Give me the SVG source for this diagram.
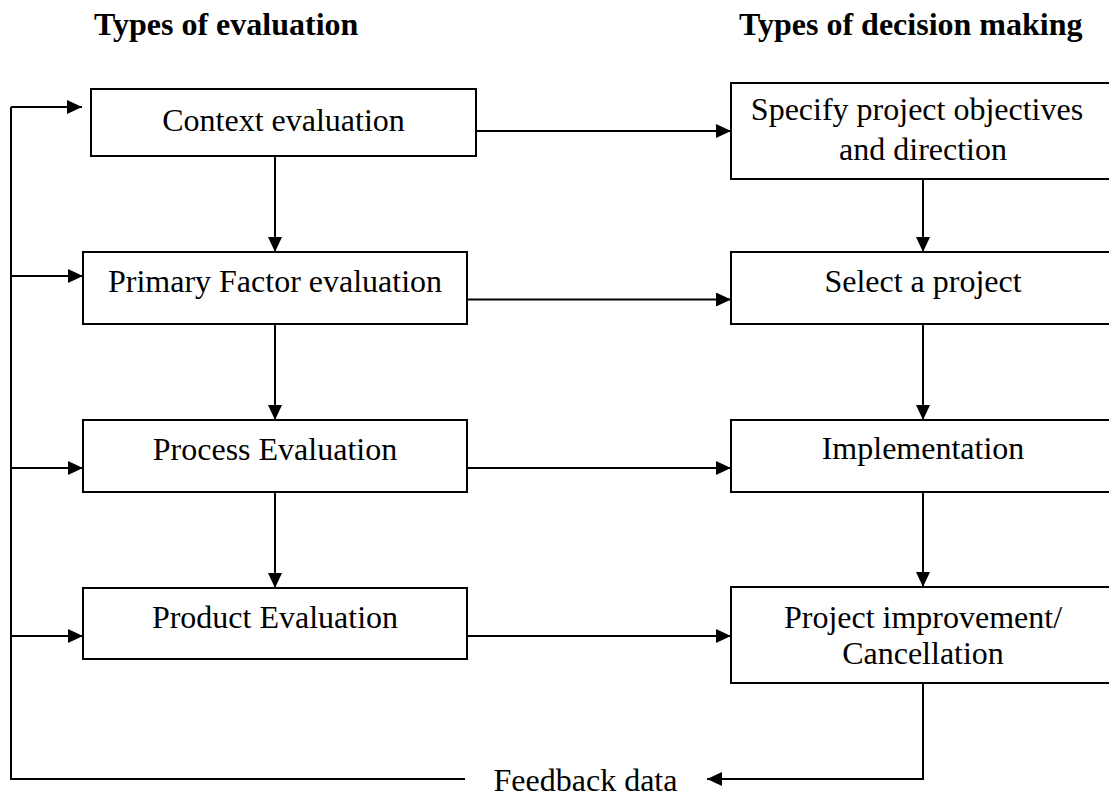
<svg xmlns="http://www.w3.org/2000/svg" width="1109" height="798" viewBox="0 0 1109 798">
<style>
.box{fill:#fff;stroke:#000;stroke-width:2}
.t{font-family:"Liberation Serif","Times New Roman",serif;font-size:32px;fill:#000;text-anchor:middle}
.h{font-family:"Liberation Serif","Times New Roman",serif;font-size:32px;font-weight:bold;fill:#000}
.c{fill:none;stroke:#000;stroke-width:2}
</style>
<defs>
<marker id="ah" markerUnits="userSpaceOnUse" markerWidth="15" markerHeight="14" refX="15" refY="7" orient="auto">
<path d="M0,0 L15,7 L0,14 z" fill="#000"/>
</marker>
</defs>
<rect width="1109" height="798" fill="#fff"/>
<text class="h" x="94" y="35">Types of evaluation</text>
<text class="h" x="739" y="35">Types of decision making</text>
<g id="connectors">
<path class="c" d="M476,131 H731" marker-end="url(#ah)"/>
<path class="c" d="M467,299.5 H731" marker-end="url(#ah)"/>
<path class="c" d="M467,468 H731" marker-end="url(#ah)"/>
<path class="c" d="M467,636 H731" marker-end="url(#ah)"/>
<path class="c" d="M275,156 V252" marker-end="url(#ah)"/>
<path class="c" d="M275,324 V420" marker-end="url(#ah)"/>
<path class="c" d="M275,492 V588" marker-end="url(#ah)"/>
<path class="c" d="M923,179 V252" marker-end="url(#ah)"/>
<path class="c" d="M923,324 V420" marker-end="url(#ah)"/>
<path class="c" d="M923,492 V587" marker-end="url(#ah)"/>
<path class="c" d="M465,779 H11 V107"/>
<path class="c" d="M11,107 H82" marker-end="url(#ah)"/>
<path class="c" d="M11,276 H83" marker-end="url(#ah)"/>
<path class="c" d="M11,468 H83" marker-end="url(#ah)"/>
<path class="c" d="M11,636 H83" marker-end="url(#ah)"/>
<path class="c" d="M923,683 V779 H707" marker-end="url(#ah)"/>
<text class="t" x="585.5" y="791" style="text-anchor:middle">Feedback data</text>
</g>
<g id="context">
<rect class="box" x="91" y="89" width="385" height="67"/>
<text class="t" x="283.5" y="131">Context evaluation</text>
</g>
<g id="primary">
<rect class="box" x="83" y="252" width="384" height="72"/>
<text class="t" x="275" y="292">Primary Factor evaluation</text>
</g>
<g id="process">
<rect class="box" x="83" y="420" width="384" height="72"/>
<text class="t" x="275" y="460">Process Evaluation</text>
</g>
<g id="product">
<rect class="box" x="83" y="588" width="384" height="71"/>
<text class="t" x="275" y="628">Product Evaluation</text>
</g>
<g id="specify">
<rect class="box" x="731" y="83" width="384" height="96"/>
<text class="t" x="917" y="120">Specify project objectives</text>
<text class="t" x="923" y="160">and direction</text>
</g>
<g id="select">
<rect class="box" x="731" y="252" width="384" height="72"/>
<text class="t" x="923" y="292">Select a project</text>
</g>
<g id="implementation">
<rect class="box" x="731" y="420" width="384" height="72"/>
<text class="t" x="923" y="459">Implementation</text>
</g>
<g id="improvement">
<rect class="box" x="731" y="587" width="384" height="96"/>
<text class="t" x="923" y="628">Project improvement/</text>
<text class="t" x="923" y="664">Cancellation</text>
</g>
</svg>
